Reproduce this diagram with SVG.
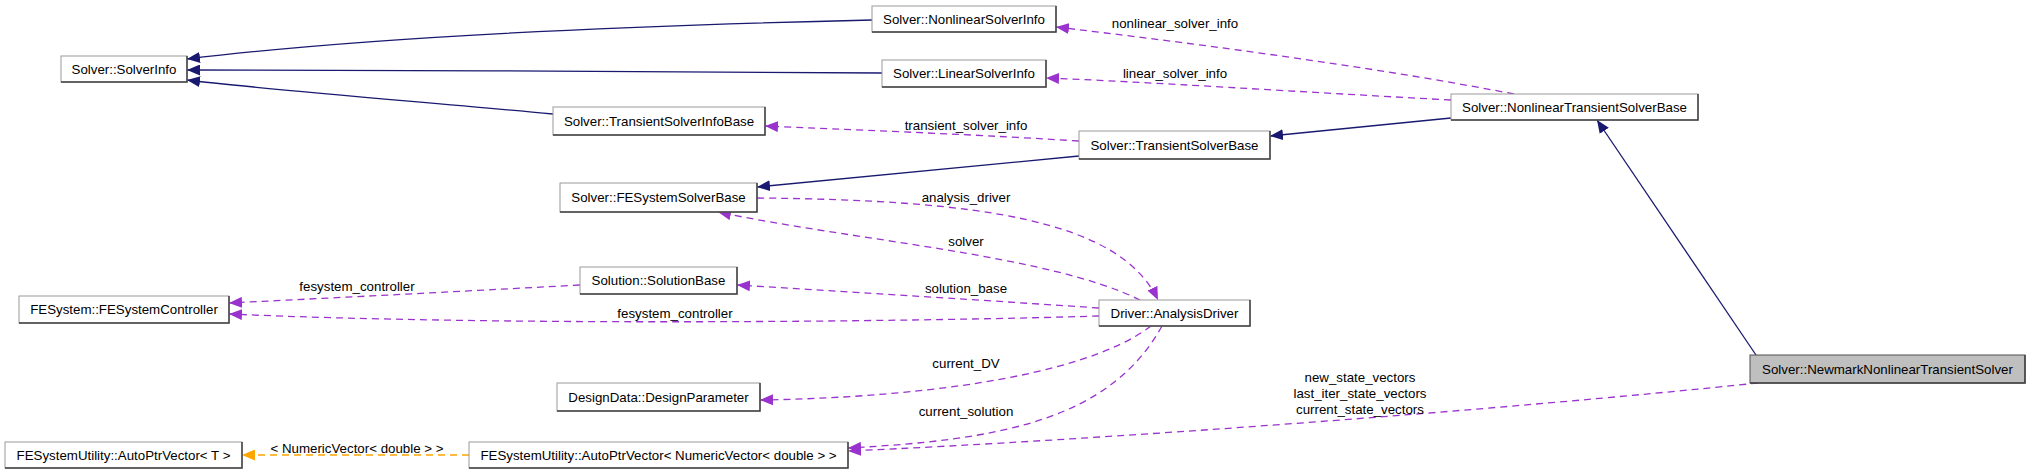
<svg xmlns="http://www.w3.org/2000/svg" width="2029" height="475" viewBox="0 0 2029 475">
<style>
.bg{fill:#ffffff}
.node rect{fill:#ffffff;stroke:#9a9a9a;stroke-width:1}
.node polyline{fill:none;stroke:#404040;stroke-width:1.5}
.node.sel rect{fill:#bfbfbf;stroke:#505050}
.node text{font-family:"Liberation Sans",Arial,sans-serif;font-size:13.3px;fill:#000;text-anchor:middle}
.inh{fill:none;stroke:#191970;stroke-width:1.3}
.use{fill:none;stroke:#9a32cd;stroke-width:1.3;stroke-dasharray:7,5}
.tpl{fill:none;stroke:#ffa500;stroke-width:1.3;stroke-dasharray:7,5}
.lbl{font-family:"Liberation Sans",Arial,sans-serif;font-size:13.3px;fill:#000;text-anchor:middle}
</style>
<defs>
<marker id="aInh" markerUnits="userSpaceOnUse" markerWidth="14" markerHeight="11" refX="13" refY="5.5" orient="auto"><path d="M0,0 L13,5.5 L0,11 z" fill="#191970"/></marker>
<marker id="aUse" markerUnits="userSpaceOnUse" markerWidth="14" markerHeight="11" refX="13" refY="5.5" orient="auto"><path d="M0,0 L13,5.5 L0,11 z" fill="#9a32cd"/></marker>
<marker id="aTpl" markerUnits="userSpaceOnUse" markerWidth="14" markerHeight="11" refX="13" refY="5.5" orient="auto"><path d="M0,0 L13,5.5 L0,11 z" fill="#ffa500"/></marker>
</defs>
<rect class="bg" x="0" y="0" width="2029" height="475"/>
<g id="connectors">
<path class="inh" d="M872,20 C700,24 400,33 187,59" marker-end="url(#aInh)"/>
<path class="inh" d="M882,73 C700,72 400,70 187,70" marker-end="url(#aInh)"/>
<path class="inh" d="M553,114 C400,100 250,88 187,80" marker-end="url(#aInh)"/>
<path class="inh" d="M1451,118 L1270,136" marker-end="url(#aInh)"/>
<path class="inh" d="M1079,156 L757,187" marker-end="url(#aInh)"/>
<path class="inh" d="M1756,355 L1597,120" marker-end="url(#aInh)"/>
<path class="use" d="M1514,94 C1400,72 1250,50 1056,27" marker-end="url(#aUse)"/>
<path class="use" d="M1451,100 C1300,92 1150,82 1046,78" marker-end="url(#aUse)"/>
<path class="use" d="M1079,141 C950,133 850,130 765,126" marker-end="url(#aUse)"/>
<path class="use" d="M757,198 C980,200 1120,220 1158,300" marker-end="url(#aUse)"/>
<path class="use" d="M1140,300 C1050,255 850,240 718,212" marker-end="url(#aUse)"/>
<path class="use" d="M1099,308 C950,298 850,292 737,285" marker-end="url(#aUse)"/>
<path class="use" d="M580,285 C450,292 350,297 229,303" marker-end="url(#aUse)"/>
<path class="use" d="M1099,316 C900,322 500,326 229,314" marker-end="url(#aUse)"/>
<path class="use" d="M1151,326 C1080,380 900,398 760,400" marker-end="url(#aUse)"/>
<path class="use" d="M1162,326 C1110,420 1000,440 848,448" marker-end="url(#aUse)"/>
<path class="use" d="M1758,383 C1500,410 1100,440 848,451" marker-end="url(#aUse)"/>
<path class="tpl" d="M469,455 L242,455" marker-end="url(#aTpl)"/>
<text class="lbl" x="1175" y="28">nonlinear_solver_info</text>
<text class="lbl" x="1175" y="78">linear_solver_info</text>
<text class="lbl" x="966" y="130">transient_solver_info</text>
<text class="lbl" x="966" y="202">analysis_driver</text>
<text class="lbl" x="966" y="246">solver</text>
<text class="lbl" x="966" y="293">solution_base</text>
<text class="lbl" x="357" y="291">fesystem_controller</text>
<text class="lbl" x="675" y="318">fesystem_controller</text>
<text class="lbl" x="966" y="368">current_DV</text>
<text class="lbl" x="966" y="416">current_solution</text>
<text class="lbl" x="1360" y="382">new_state_vectors</text>
<text class="lbl" x="1360" y="398">last_iter_state_vectors</text>
<text class="lbl" x="1360" y="414">current_state_vectors</text>
<text class="lbl" x="357" y="453">&lt; NumericVector&lt; double &gt; &gt;</text>
</g>
<g id="n_SolverInfo" class="node"><rect x="61" y="56" width="126" height="26"/><polyline points="187,56 187,82 61,82"/><text x="124" y="74">Solver::SolverInfo</text></g>
<g id="n_NonlinearSolverInfo" class="node"><rect x="872" y="6" width="184" height="26"/><polyline points="1056,6 1056,32 872,32"/><text x="964" y="24">Solver::NonlinearSolverInfo</text></g>
<g id="n_LinearSolverInfo" class="node"><rect x="882" y="60" width="164" height="27"/><polyline points="1046,60 1046,87 882,87"/><text x="964" y="78">Solver::LinearSolverInfo</text></g>
<g id="n_TransientSolverInfoBase" class="node"><rect x="553" y="107" width="212" height="28"/><polyline points="765,107 765,135 553,135"/><text x="659" y="126">Solver::TransientSolverInfoBase</text></g>
<g id="n_TransientSolverBase" class="node"><rect x="1079" y="131" width="191" height="28"/><polyline points="1270,131 1270,159 1079,159"/><text x="1174.5" y="150">Solver::TransientSolverBase</text></g>
<g id="n_NonlinearTransientSolverBase" class="node"><rect x="1451" y="94" width="247" height="26"/><polyline points="1698,94 1698,120 1451,120"/><text x="1574.5" y="112">Solver::NonlinearTransientSolverBase</text></g>
<g id="n_FESystemSolverBase" class="node"><rect x="560" y="183" width="197" height="29"/><polyline points="757,183 757,212 560,212"/><text x="658.5" y="202">Solver::FESystemSolverBase</text></g>
<g id="n_SolutionBase" class="node"><rect x="580" y="267" width="157" height="27"/><polyline points="737,267 737,294 580,294"/><text x="658.5" y="285">Solution::SolutionBase</text></g>
<g id="n_FESystemController" class="node"><rect x="19" y="296" width="210" height="27"/><polyline points="229,296 229,323 19,323"/><text x="124" y="314">FESystem::FESystemController</text></g>
<g id="n_AnalysisDriver" class="node"><rect x="1099" y="300" width="151" height="26"/><polyline points="1250,300 1250,326 1099,326"/><text x="1174.5" y="318">Driver::AnalysisDriver</text></g>
<g id="n_DesignParameter" class="node"><rect x="557" y="383" width="203" height="28"/><polyline points="760,383 760,411 557,411"/><text x="658.5" y="402">DesignData::DesignParameter</text></g>
<g id="n_AutoPtrVectorT" class="node"><rect x="5" y="442" width="237" height="26"/><polyline points="242,442 242,468 5,468"/><text x="123.5" y="460">FESystemUtility::AutoPtrVector&lt; T &gt;</text></g>
<g id="n_AutoPtrVectorNV" class="node"><rect x="469" y="442" width="379" height="26"/><polyline points="848,442 848,468 469,468"/><text x="658.5" y="460">FESystemUtility::AutoPtrVector&lt; NumericVector&lt; double &gt; &gt;</text></g>
<g id="n_Newmark" class="node sel"><rect x="1750" y="355" width="275" height="28"/><polyline points="2025,355 2025,383 1750,383"/><text x="1887.5" y="374">Solver::NewmarkNonlinearTransientSolver</text></g>
</svg>
